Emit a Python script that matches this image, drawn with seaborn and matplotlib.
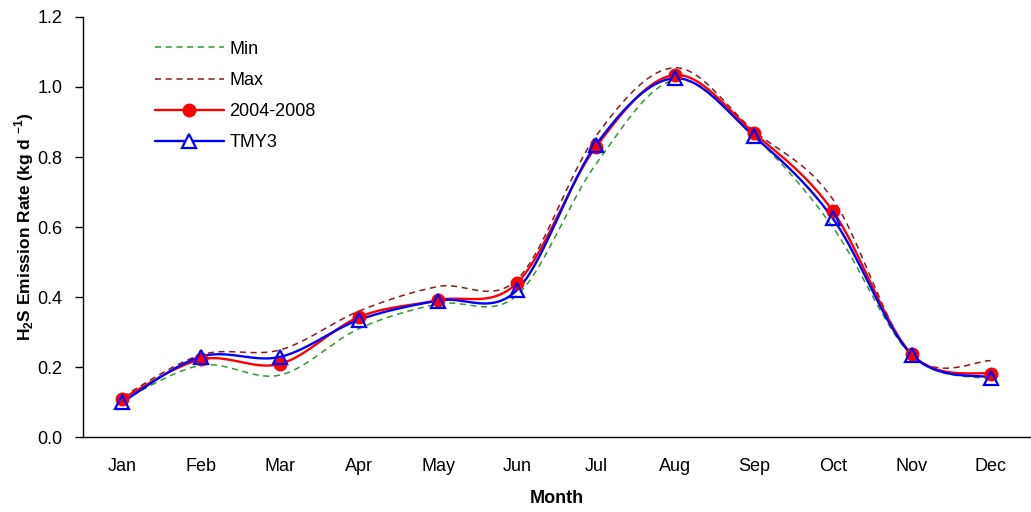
import numpy as np
import pandas as pd
import matplotlib
matplotlib.use("Agg")
import matplotlib.pyplot as plt
import seaborn as sns
from matplotlib.lines import Line2D
from matplotlib.ticker import MultipleLocator, FormatStrFormatter, FixedLocator

months = ["Jan", "Feb", "Mar", "Apr", "May", "Jun", "Jul", "Aug", "Sep", "Oct", "Nov", "Dec"]
min_vals = [0.105, 0.205, 0.177, 0.31, 0.38, 0.405, 0.78, 1.02, 0.86, 0.60, 0.233, 0.165]
max_vals = [0.115, 0.235, 0.249, 0.36, 0.43, 0.45, 0.86, 1.055, 0.875, 0.68, 0.235, 0.218]
avg_vals = [0.11, 0.222, 0.209, 0.343, 0.391, 0.44, 0.829, 1.034, 0.869, 0.646, 0.237, 0.18]
tmy_vals = [0.10, 0.23, 0.229, 0.335, 0.39, 0.42, 0.835, 1.025, 0.86, 0.625, 0.235, 0.17]


def smooth(y, n=40):
    """Excel-like smoothed line (Catmull-Rom Bezier) through the points."""
    y = np.asarray(y, float)
    x = np.arange(len(y), dtype=float)
    P = np.column_stack([x, y])
    Pp = np.vstack([P[0], P, P[-1]])
    out = []
    t = np.linspace(0, 1, n)[:, None]
    for i in range(len(P) - 1):
        p0, p1, p2, p3 = Pp[i], Pp[i + 1], Pp[i + 2], Pp[i + 3]
        b1 = p1 + (p2 - p0) / 6.0
        b2 = p2 - (p3 - p1) / 6.0
        seg = ((1 - t) ** 3) * p1 + 3 * ((1 - t) ** 2) * t * b1 + 3 * (1 - t) * t ** 2 * b2 + t ** 3 * p2
        out.append(seg if i == 0 else seg[1:])
    s = np.vstack(out)
    return s[:, 0], s[:, 1]


sns.set_style("white")
plt.rcParams["font.family"] = ["Liberation Sans", "DejaVu Sans"]
plt.rcParams["mathtext.fontset"] = "custom"
plt.rcParams["mathtext.rm"] = "Liberation Sans"
plt.rcParams["mathtext.bf"] = "Liberation Sans:bold"
plt.rcParams["text.color"] = "black"
plt.rcParams["axes.labelcolor"] = "black"
plt.rcParams["xtick.color"] = "black"
plt.rcParams["ytick.color"] = "black"

FS = 13

fig = plt.figure(figsize=(10.31, 5.12), dpi=100)
ax = fig.add_axes([83 / 1031, 1 - 437 / 512, (1030 - 83) / 1031, (437 - 17) / 512])

x_idx = np.arange(len(months))

series = [
    ("Min", min_vals, "#2E9B2E", (0, (4, 3)), 1.1, None),
    ("Max", max_vals, "#8B1A1A", (0, (4, 3)), 1.1, None),
    ("2004-2008", avg_vals, "#FF0000", "-", 1.7, "o"),
    ("TMY3", tmy_vals, "#0000FF", "-", 1.7, "^"),
]

handles = []
for name, vals, color, ls, lw, mk in series:
    xs, ys = smooth(vals)
    df = pd.DataFrame({"x": xs, "y": ys})
    sns.lineplot(data=df, x="x", y="y", ax=ax, color=color, linestyle=ls, linewidth=lw,
                 sort=False, estimator=None)
    if mk == "o":
        ax.plot(x_idx, vals, linestyle="none", marker="o", markersize=9, color=color,
                markeredgecolor=color, zorder=4)
        handles.append(Line2D([], [], color=color, lw=lw, marker="o", markersize=9))
    elif mk == "^":
        ax.plot(x_idx, vals, linestyle="none", marker="^", markersize=10, markerfacecolor="none",
                markeredgecolor=color, markeredgewidth=1.6, zorder=5)
        handles.append(Line2D([], [], color=color, lw=lw, marker="^", markersize=10,
                              markerfacecolor="white", markeredgewidth=1.6))
    else:
        handles.append(Line2D([], [], color=color, lw=lw, linestyle=ls))

ax.set_xlim(-0.5, len(months) - 0.5)
ax.set_ylim(0, 1.2)
ax.yaxis.set_major_locator(MultipleLocator(0.2))
ax.yaxis.set_major_formatter(FormatStrFormatter("%.1f"))
ax.xaxis.set_major_locator(FixedLocator(x_idx))
ax.set_xticks(x_idx)
ax.set_xticklabels(months)
ax.set_xticks(np.arange(0.5, len(months) - 1, 1.0), minor=True)
ax.tick_params(axis="x", which="major", length=0, labelsize=FS, pad=15, colors="black")
ax.tick_params(axis="x", which="minor", direction="in", length=6, width=1, color="#333333")
ax.tick_params(axis="y", which="major", direction="out", length=6, width=1, labelsize=FS,
               color="black", labelcolor="black", left=True, pad=9)

for side in ["top", "right"]:
    ax.spines[side].set_visible(False)
for side in ["left", "bottom"]:
    ax.spines[side].set_color("black")
    ax.spines[side].set_linewidth(1.0)

ax.set_xlabel("Month", fontsize=FS, fontweight="bold", labelpad=11, color="black")
ax.set_ylabel(r"H$_\mathbf{2}$S Emission Rate (kg d $^\mathbf{-1}$)", fontsize=FS - 0.5,
              fontweight="bold", labelpad=1, color="black")

leg = ax.legend(handles, [s[0] for s in series], loc="upper left", bbox_to_anchor=(0.059, 0.982),
                frameon=False, fontsize=FS, handlelength=3.8, labelspacing=0.78, handletextpad=0.3)
for t in leg.get_texts():
    t.set_color("black")

fig.savefig("out.png", dpi=100)
